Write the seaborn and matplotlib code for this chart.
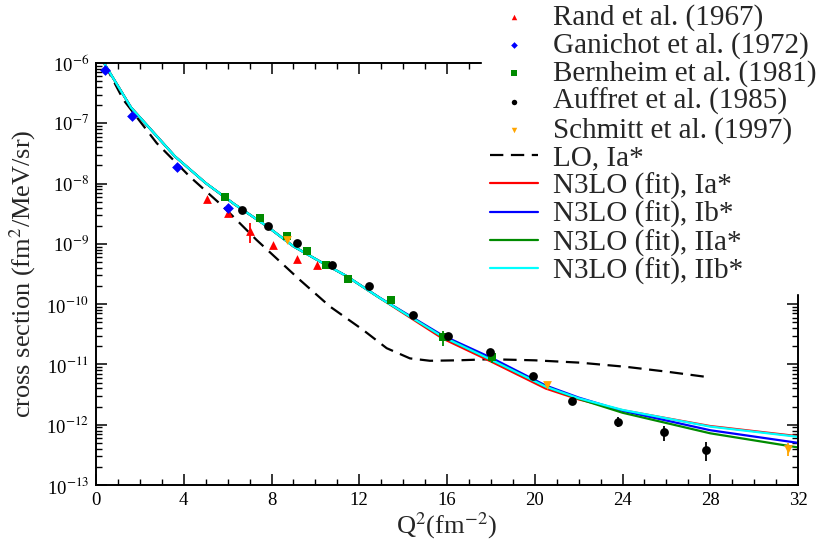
import numpy as np
import pandas as pd
import matplotlib
matplotlib.use("Agg")
import matplotlib.pyplot as plt
import seaborn as sns
from matplotlib.ticker import FixedLocator, MultipleLocator, NullFormatter, FuncFormatter

# ---- experimental data: Q^2 (fm^-2), cross section (fm^2/MeV/sr), error ----
rand_q2 = [5.04, 6.0, 7.02, 8.05, 9.15, 10.09]
rand_cs = [5.56e-9, 3.3e-9, 1.64e-9, 9.5e-10, 5.7e-10, 4.47e-10]
rand_err = [0.0, 0.0, 0.6e-9, 0.0, 0.0, 0.0]

ganichot_q2 = [0.41, 1.63, 3.71, 6.03]
ganichot_cs = [7.66e-7, 1.32e-7, 1.9e-8, 3.9e-9]

bernheim_q2 = [5.88, 7.47, 8.69, 9.63, 10.5, 11.5, 13.45, 15.8, 18.03]
bernheim_cs = [6.07e-9, 2.65e-9, 1.37e-9, 7.6e-10, 4.47e-10, 2.63e-10, 1.15e-10, 2.8e-11, 1.35e-11]
bernheim_err = [0.0, 0.0, 0.0, 0.0, 0.0, 0.0, 0.0, 0.8e-11, 0.3e-11]

auffret_q2 = [6.64, 7.85, 9.15, 10.74, 12.44, 14.46, 16.06, 17.96, 19.93, 21.68, 23.78, 25.9, 27.79]
auffret_cs = [3.65e-9, 1.95e-9, 1.05e-9, 4.47e-10, 2.0e-10, 6.6e-11, 2.95e-11, 1.62e-11,
              6.4e-12, 2.5e-12, 1.12e-12, 7.5e-13, 3.8e-13]
auffret_err = [0, 0, 0, 0, 0, 0, 0, 0, 0, 0.3e-12, 0.22e-12, 2.1e-13, 1.3e-13]

schmitt_q2 = [8.7, 20.54, 31.55]
schmitt_cs = [1.16e-9, 4.6e-12, 4.0e-13]
schmitt_err = [0.0, 0.4e-12, 1.0e-13]

# ---- theory curves ----
lo_q2 = [0.4, 1.25, 2.77, 4.28, 5.8, 7.32, 9.3, 10.67, 12.18, 13.25, 14.31, 15.22,
         16.5, 17.96, 20.0, 22.06, 24.19, 26.0, 27.83]
lo_cs = [9.5e-7, 2.45e-7, 4.68e-8, 1.30e-8, 4.14e-9, 1.16e-9, 2.51e-10, 9.1e-11,
         3.72e-11, 1.86e-11, 1.26e-11, 1.15e-11, 1.17e-11, 1.22e-11, 1.17e-11,
         1.07e-11, 9.1e-12, 7.6e-12, 6.2e-12]

n3lo_q2 = [0.4, 1.6, 3.6, 5.0, 6.3, 7.8, 9.0, 10.1, 11.4, 12.9, 15.8, 18.0, 20.5, 22.0, 24.0, 28.0, 32.0]
n3lo_ia = [9.5e-7, 1.82e-7, 2.82e-8, 1.02e-8, 4.57e-9, 1.95e-9, 9.1e-10, 5.37e-10, 2.95e-10,
           1.29e-10, 2.69e-11, 1.12e-11, 3.98e-12, 2.63e-12, 1.74e-12, 9.5e-13, 6.45e-13]
n3lo_ib = [9.5e-7, 1.82e-7, 2.82e-8, 1.02e-8, 4.57e-9, 1.95e-9, 9.1e-10, 5.37e-10, 2.95e-10,
           1.30e-10, 3.02e-11, 1.30e-11, 4.47e-12, 2.82e-12, 1.70e-12, 8.1e-13, 5.0e-13]
n3lo_iia = [9.5e-7, 1.82e-7, 2.82e-8, 1.02e-8, 4.57e-9, 1.95e-9, 9.1e-10, 5.37e-10, 2.95e-10,
            1.29e-10, 2.88e-11, 1.20e-11, 4.27e-12, 2.69e-12, 1.58e-12, 7.2e-13, 4.2e-13]
n3lo_iib = [9.5e-7, 1.82e-7, 2.82e-8, 1.02e-8, 4.57e-9, 1.95e-9, 9.1e-10, 5.37e-10, 2.95e-10,
            1.29e-10, 2.88e-11, 1.20e-11, 4.27e-12, 2.75e-12, 1.76e-12, 9.3e-13, 6.3e-13]

# decades shown on the y axis
decades = list(range(-13, -5))

sns.set_theme(style="ticks")
plt.rcParams["font.family"] = ["Liberation Serif", "DejaVu Serif"]
plt.rcParams["mathtext.fontset"] = "stix"

fig = plt.figure(figsize=(8.22, 5.42), dpi=100)
W, H = 822, 542
ax = fig.add_axes([96 / W, 1 - 485 / H, (798 - 96) / W, (485 - 63) / H])
ax.set_yscale("log")

# theory curves
sns.lineplot(x=lo_q2, y=lo_cs, ax=ax, color="black", lw=1.6, sort=False,
             estimator=None, linestyle=(0, (6, 3.4)), label="LO, Ia*")
curves = [(n3lo_ia, "#ff0000", "N3LO (fit), Ia*"),
          (n3lo_ib, "#0000ff", "N3LO (fit), Ib*"),
          (n3lo_iia, "#008b00", "N3LO (fit), IIa*"),
          (n3lo_iib, "#00ffff", "N3LO (fit), IIb*")]
for vals, col, lab in curves:
    sns.lineplot(x=n3lo_q2, y=vals, ax=ax, color=col, lw=1.6, sort=False,
                 estimator=None, label=lab)

# experimental points
sets = [(rand_q2, rand_cs, rand_err, "^", "#ff0000", "Rand et al. (1967)"),
        (ganichot_q2, ganichot_cs, None, "D", "#0000ff", "Ganichot et al. (1972)"),
        (bernheim_q2, bernheim_cs, bernheim_err, "s", "#008b00", "Bernheim et al. (1981)"),
        (auffret_q2, auffret_cs, auffret_err, "o", "#000000", "Auffret et al. (1985)"),
        (schmitt_q2, schmitt_cs, schmitt_err, "v", "#ffa500", "Schmitt et al. (1997)")]
for q2, cs, err, mk, col, lab in sets:
    if err is not None:
        ax.errorbar(q2, cs, yerr=err, fmt="none", ecolor=col, elinewidth=1.3, zorder=3)
    size = 30 if mk == "D" else 40
    sns.scatterplot(x=q2, y=cs, ax=ax, marker=mk, color=col, s=size,
                    linewidth=0, zorder=4, label=lab)

ax.set_xlim(0, 32)
ax.set_ylim(10.0 ** decades[0], 10.0 ** decades[-1])
ax.xaxis.set_major_locator(MultipleLocator(4))
ax.xaxis.set_minor_locator(MultipleLocator(1))
ax.yaxis.set_major_locator(FixedLocator([10.0 ** d for d in decades]))
ax.yaxis.set_minor_locator(FixedLocator([m * 10.0 ** d for d in decades[:-1] for m in range(2, 10)]))
ax.yaxis.set_minor_formatter(NullFormatter())
ax.yaxis.set_major_formatter(FuncFormatter(lambda v, p: "10$^{%d}$" % int(round(np.log10(v)))))

ax.tick_params(which="both", direction="in", top=True, right=True, colors="black",
               labelsize=13.5)
ax.tick_params(which="major", length=8, width=1.1, pad=5)
ax.tick_params(which="minor", length=4.5, width=1.0)
for sp in ax.spines.values():
    sp.set_linewidth(1.4)
    sp.set_color("black")
    sp.set_visible(True)

ax.set_xlabel("Q$^2$(fm$^{-2}$)", fontsize=19, labelpad=1)
ax.set_ylabel("cross section (fm$^2$/MeV/sr)", fontsize=19, labelpad=6)

handles, labels = ax.get_legend_handles_labels()
order = ["Rand et al. (1967)", "Ganichot et al. (1972)", "Bernheim et al. (1981)",
         "Auffret et al. (1985)", "Schmitt et al. (1997)", "LO, Ia*",
         "N3LO (fit), Ia*", "N3LO (fit), Ib*", "N3LO (fit), IIa*", "N3LO (fit), IIb*"]
lookup = dict(zip(labels, handles))
leg = ax.legend([lookup[k] for k in order], order, loc="upper left",
                bbox_to_anchor=(482 / W, 1.0 + 4 / H), bbox_transform=fig.transFigure,
                borderaxespad=0, fontsize=21, frameon=True, fancybox=False,
                facecolor="white", edgecolor="white", framealpha=1,
                borderpad=0.27, labelspacing=0.04, handlelength=1.64,
                handletextpad=0.51, markerscale=0.62)
leg.set_zorder(10)

fig.savefig("out.png", dpi=100)
